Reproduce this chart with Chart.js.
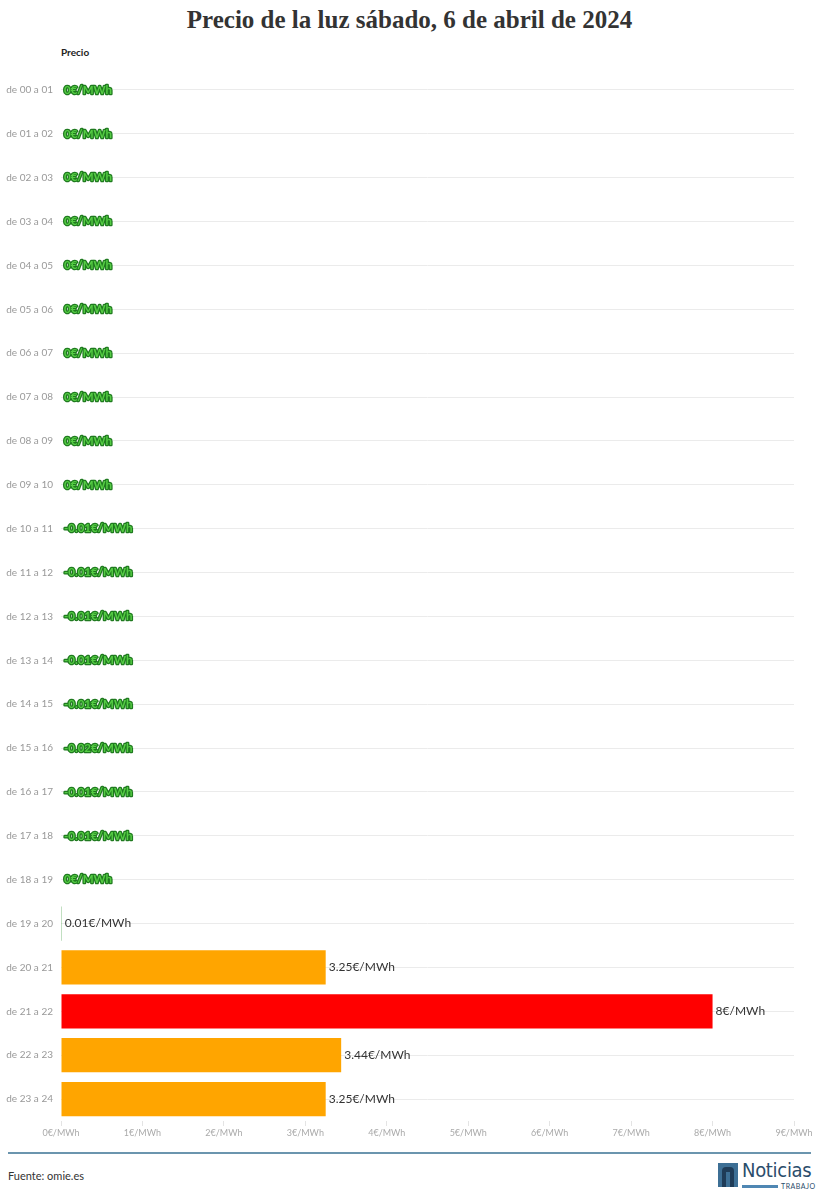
<!DOCTYPE html>
<html lang="es">
<head>
<meta charset="utf-8">
<title>Precio de la luz</title>
<script src="https://cdn.jsdelivr.net/npm/chart.js@4"></script>
<style>
    body { margin: 0; background: #fff; width: 819px; height: 1200px; position: relative; font-family: Lato, "Open Sans", sans-serif; }
    #title { position: absolute; top: 6px; left: 0; width: 819px; text-align: center; font-family: "Liberation Serif", serif; font-weight: bold; font-size: 25px; color: #333; }
    #serie { position: absolute; top: 46px; left: 61px; font-weight: bold; font-size: 10px; color: #222; }
    #chartBox { position: absolute; top: 54px; left: 0; }
    #rule { position: absolute; top: 1152px; left: 8px; width: 803px; height: 2px; background: #6b95ae; }
    #fuente { position: absolute; top: 1169px; left: 8px; font-size: 11px; color: #333; }
    #logo { position: absolute; top: 1162px; left: 718px; width: 95px; height: 28px; }
    #logo .sq { position: absolute; left: 0; top: 1px; width: 20px; height: 24px; background: #3d6f95; }
    #logo .sq span { position: absolute; left: 4px; top: 4px; width: 12px; height: 20px; background: #1f3c58; border-radius: 4px 4px 0 0; }
    #logo .sq span::after { content: ''; position: absolute; left: 4px; top: 5px; width: 4px; height: 15px; background: #3d6f95; }
    #logo .nt { position: absolute; left: 24px; top: -4px; font-family: "DejaVu Sans Condensed", "DejaVu Sans", sans-serif; font-size: 20px; color: #2b4d6b; letter-spacing: -0.3px; }
    #logo .bar { position: absolute; left: 24px; top: 23px; width: 36px; height: 3px; background: #4f87b3; }
    #logo .tr { position: absolute; left: 63px; top: 20px; font-size: 7px; color: #2b4d6b; letter-spacing: 0.5px; }
</style>
</head>
<body>
<div id="title">Precio de la luz sábado, 6 de abril de 2024</div>
<div id="serie">Precio</div>
<div id="chartBox"><canvas id="precioChart" width="819" height="1091"></canvas></div>
<div id="rule"></div>
<div id="fuente">Fuente: omie.es</div>
<div id="logo">
    <div class="sq"><span></span></div>
    <div class="nt">Noticias</div>
    <div class="bar"></div>
    <div class="tr">TRABAJO</div>
</div>
<script>
const horas = [
    'de 00 a 01', 'de 01 a 02', 'de 02 a 03', 'de 03 a 04', 'de 04 a 05', 'de 05 a 06',
    'de 06 a 07', 'de 07 a 08', 'de 08 a 09', 'de 09 a 10', 'de 10 a 11', 'de 11 a 12',
    'de 12 a 13', 'de 13 a 14', 'de 14 a 15', 'de 15 a 16', 'de 16 a 17', 'de 17 a 18',
    'de 18 a 19', 'de 19 a 20', 'de 20 a 21', 'de 21 a 22', 'de 22 a 23', 'de 23 a 24'
];
const precios = [
    0, 0, 0, 0, 0, 0, 0, 0, 0, 0,
    -0.01, -0.01, -0.01, -0.01, -0.01, -0.02, -0.01, -0.01,
    0, 0.01, 3.25, 8, 3.44, 3.25
];
const ejeMin = 0;
const ejeMax = 9;
const unidad = '€/MWh';

function colorPrecio(v) {
    if (v >= 5) return '#ff0000';
    if (v >= 1) return '#ffa500';
    return '#3a9a3a';
}

// etiquetas de valor al final de cada barra
const valueLabels = {
    id: 'valueLabels',
    afterDatasetsDraw(chart) {
        const ctx = chart.ctx;
        const xScale = chart.scales.x;
        const meta = chart.getDatasetMeta(0);
        const x0 = xScale.getPixelForValue(0);
        ctx.save();
        ctx.textBaseline = 'middle';
        ctx.textAlign = 'left';
        meta.data.forEach((bar, i) => {
            const v = precios[i];
            const txt = v + unidad;
            if (v <= 0) {
                ctx.font = 'bold 11.5px Lato, sans-serif';
                ctx.lineJoin = 'round';
                ctx.lineWidth = 2.5;
                ctx.strokeStyle = '#1f7a1f';
                ctx.strokeText(txt, x0 + 3, bar.y);
                ctx.fillStyle = '#55cc44';
                ctx.fillText(txt, x0 + 3, bar.y);
            } else {
                ctx.font = '12px Lato, sans-serif';
                ctx.fillStyle = '#333';
                ctx.fillText(txt, Math.max(bar.x, x0) + 3, bar.y);
            }
        });
        ctx.restore();
    }
};

new Chart(document.getElementById('precioChart'), {
    type: 'bar',
    data: {
        labels: horas,
        datasets: [{
            label: 'Precio',
            data: precios,
            backgroundColor: precios.map(colorPrecio),
            borderWidth: 0,
            barPercentage: 0.78,
            categoryPercentage: 1
        }]
    },
    options: {
        indexAxis: 'y',
        responsive: false,
        animation: false,
        layout: { padding: { top: 7, right: 25, left: 0, bottom: 0 } },
        plugins: {
            legend: { display: false },
            tooltip: { enabled: false }
        },
        scales: {
            x: {
                min: ejeMin,
                max: ejeMax,
                border: { display: false },
                grid: { drawOnChartArea: false, tickLength: 5, color: '#e4e4e4' },
                ticks: {
                    stepSize: 1,
                    padding: 2,
                    color: '#aaa',
                    font: { family: 'Lato', size: 9 },
                    callback: v => v + unidad
                },
                afterFit: s => { s.height = 24; }
            },
            y: {
                border: { display: false },
                grid: { offset: false, drawTicks: false, color: '#ebebeb' },
                ticks: {
                    padding: 8,
                    color: '#999',
                    font: { family: 'Lato', size: 10 }
                },
                afterFit: s => { s.width = 61; }
            }
        }
    },
    plugins: [valueLabels]
});
</script>
</body>
</html>
